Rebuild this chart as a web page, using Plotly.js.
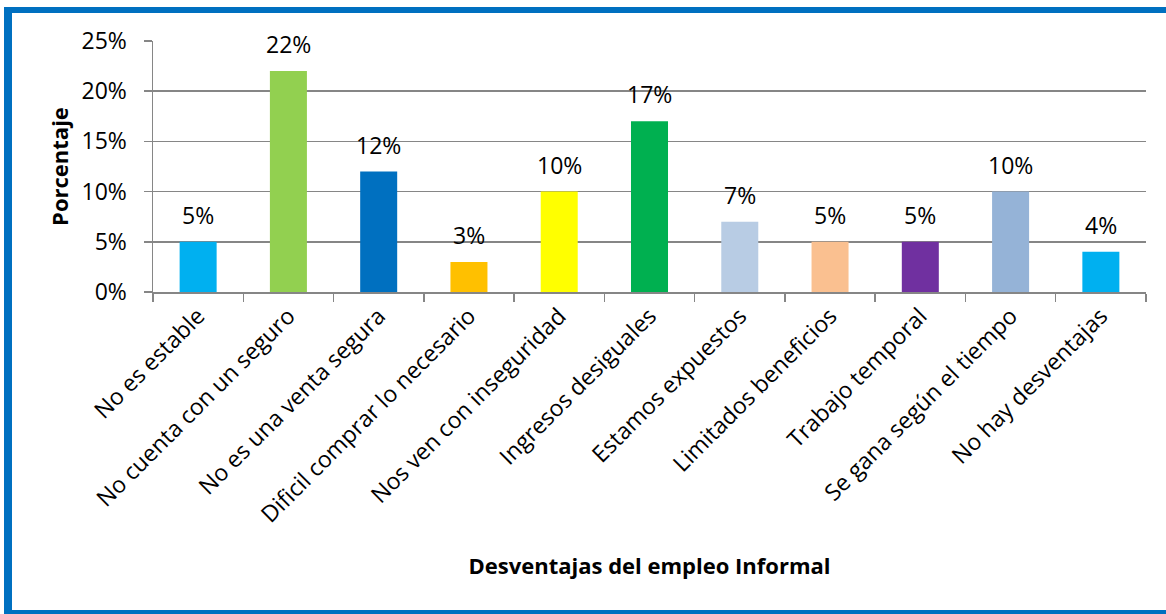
<!DOCTYPE html>
<html>
<head>
<meta charset="utf-8">
<script src="https://cdn.plot.ly/plotly-3.0.1.min.js"></script>
<style>
  html, body { margin: 0; padding: 0; background: #ffffff; }
  #wrap { position: relative; width: 1166px; height: 614px; overflow: hidden; }
  #chart { position: absolute; left: 0; top: 0; width: 1166px; height: 614px; }
  #frame { position: absolute; left: 4px; top: 7px; width: 1200px; height: 597px;
           border-left: 8px solid #0070C0; border-top: 6px solid #0070C0; border-bottom: 5px solid #0070C0;
           pointer-events: none; }
</style>
</head>
<body>
<div id="wrap">
  <div id="chart"></div>
  <div id="frame"></div>
</div>
<script>
const categories = [
  "No es estable",
  "No cuenta con un seguro",
  "No es una venta segura",
  "Dificil comprar lo necesario",
  "Nos ven con inseguridad",
  "Ingresos desiguales",
  "Estamos expuestos",
  "Limitados beneficios",
  "Trabajo temporal",
  "Se gana según el tiempo",
  "No hay desventajas"
];
const values = [0.05, 0.22, 0.12, 0.03, 0.10, 0.17, 0.07, 0.05, 0.05, 0.10, 0.04];
const barColors = ["#00B0F0", "#92D050", "#0070C0", "#FFC000", "#FFFF00", "#00B050",
                   "#B8CCE4", "#FAC090", "#7030A0", "#95B3D7", "#00B0F0"];
const yTickVals = [0, 0.05, 0.10, 0.15, 0.20, 0.25];
const yTickText = ["0%", "5%", "10%", "15%", "20%", "25%"];

const FONT = "Open Sans, Lato, sans-serif";

const trace = {
  type: "bar",
  x: categories,
  y: values,
  width: 0.41,
  marker: { color: barColors, line: { width: 0 } },
  hoverinfo: "x+y"
};

const labels = categories.map((c, i) => ({
  x: c, y: values[i], xref: "x", yref: "y",
  text: Math.round(values[i] * 100) + "%",
  showarrow: false, yanchor: "bottom", yshift: 9,
  font: { family: FONT, size: 23, color: "#000000" }
}));

const layout = {
  width: 1166, height: 614,
  margin: { l: 153, r: 20, t: 41, b: 322 },
  paper_bgcolor: "#ffffff", plot_bgcolor: "#ffffff",
  showlegend: false,
  bargap: 0.59,
  font: { family: FONT, color: "#000000" },
  xaxis: {
    type: "category",
    tickangle: -45,
    tickson: "boundaries",
    ticks: "outside", ticklen: 8, tickwidth: 1.5, tickcolor: "#868686",
    showline: true, linecolor: "#868686", linewidth: 1.5,
    showgrid: false,
    tickfont: { family: FONT, size: 23, color: "#000000" },
    title: { text: "Desventajas del empleo Informal", standoff: 30,
             font: { family: FONT, size: 22, color: "#000000", weight: "bold" } },
    automargin: false
  },
  yaxis: {
    range: [0, 0.25],
    tickvals: yTickVals, ticktext: yTickText,
    ticks: "outside", ticklen: 8, tickwidth: 1.5, tickcolor: "#868686",
    ticklabelstandoff: 12,
    showline: true, linecolor: "#868686", linewidth: 1.5,
    showgrid: true, gridcolor: "#868686", gridwidth: 1.5,
    zeroline: false,
    tickfont: { family: FONT, size: 23, color: "#000000" },
    title: { text: "Porcentaje", standoff: 7,
             font: { family: FONT, size: 22, color: "#000000", weight: "bold" } },
    automargin: false
  },
  annotations: labels
};

Plotly.newPlot("chart", [trace], layout, { displayModeBar: false, staticPlot: true });
</script>
</body>
</html>
